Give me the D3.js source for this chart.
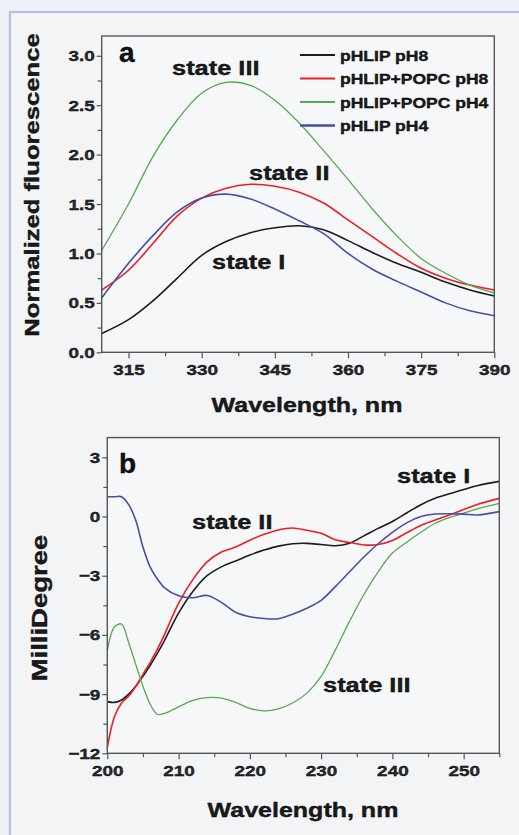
<!DOCTYPE html>
<html>
<head>
<meta charset="utf-8">
<script src="https://cdn.jsdelivr.net/npm/d3@7"></script>
<style>
  body { margin: 0; background: #eef1f7; }
  text { font-family: 'Liberation Sans', Arial, sans-serif; font-weight: bold; stroke: currentColor; stroke-width: 0.35px; }
</style>
</head>
<body>
<svg id="fig" width="519" height="835"></svg>
<script>
// series names + colours (shared by both panels)
const seriesNames = ['pHLIP pH8', 'pHLIP+POPC pH8', 'pHLIP+POPC pH4', 'pHLIP pH4']
const seriesColors = ['#1c1c1c', '#ee1d25', '#55a94f', '#4a4ea3']

// panel a - fluorescence
const wlA = [309.5, 315, 320, 325, 330, 335, 340, 345, 350, 355, 360, 365, 370, 375, 380, 385, 390]
const fluoPH8 = [0.19, 0.33, 0.52, 0.75, 0.98, 1.12, 1.21, 1.26, 1.28, 1.24, 1.13, 1.01, 0.90, 0.81, 0.71, 0.63, 0.57]
const fluoPOPC8 = [0.63, 0.83, 1.10, 1.38, 1.56, 1.66, 1.70, 1.68, 1.62, 1.51, 1.34, 1.17, 1.00, 0.85, 0.75, 0.68, 0.63]
const fluoPOPC4 = [1.03, 1.50, 1.98, 2.35, 2.62, 2.73, 2.70, 2.55, 2.32, 2.04, 1.75, 1.45, 1.18, 0.95, 0.80, 0.68, 0.60]
const fluoPH4 = [0.55, 0.90, 1.18, 1.42, 1.56, 1.60, 1.55, 1.45, 1.33, 1.20, 1.00, 0.84, 0.72, 0.61, 0.50, 0.42, 0.37]
const yTicksA = [0, 0.5, 1, 1.5, 2, 2.5, 3]
const xTicksA = [315, 330, 345, 360, 375, 390]

// panel b - CD
const wlB = [200, 201, 202, 203, 204, 205, 206, 207, 208, 210, 212, 214, 216, 218, 220, 222, 224, 226, 228, 230, 232, 234, 236, 238, 240, 242, 244, 246, 248, 250, 252, 255]
const cdPH8 = [-9.38, -9.42, -9.3, -9.0, -8.6, -8.1, -7.55, -6.95, -6.3, -4.9, -3.8, -3.0, -2.55, -2.25, -1.95, -1.7, -1.5, -1.38, -1.36, -1.42, -1.48, -1.35, -0.98, -0.6, -0.25, 0.18, 0.6, 0.92, 1.15, 1.37, 1.57, 1.78]
const cdPOPC8 = [-11.7, -10.15, -9.45, -9.1, -8.6, -8.0, -7.4, -6.75, -6.0, -4.4, -3.2, -2.3, -1.8, -1.55, -1.2, -0.9, -0.68, -0.58, -0.7, -0.85, -1.18, -1.32, -1.44, -1.42, -1.22, -0.82, -0.45, -0.18, 0.08, 0.35, 0.62, 0.92]
const cdPOPC4 = [-6.8, -5.6, -5.45, -6.4, -7.5, -8.6, -9.5, -10.02, -9.98, -9.65, -9.32, -9.18, -9.2, -9.42, -9.72, -9.85, -9.75, -9.45, -8.95, -8.1, -6.76, -5.3, -3.95, -2.8, -1.85, -1.3, -0.8, -0.34, -0.05, 0.17, 0.4, 0.67]
const cdPH4 = [1.0, 1.0, 1.0, 0.6, -0.2, -1.55, -2.55, -3.15, -3.6, -4.02, -4.12, -4.0, -4.35, -4.85, -5.08, -5.17, -5.18, -4.95, -4.65, -4.25, -3.55, -2.8, -2.05, -1.38, -0.8, -0.32, 0.0, 0.13, 0.14, 0.12, 0.08, 0.25]
const yTicksB = [-12, -9, -6, -3, 0, 3]
const xTicksB = [200, 210, 220, 230, 240, 250]

const svg = d3.select('#fig')
const axisColor = '#555'

// wide bold lettering of the original - stretch text along its run
function widen (sel, k) {
  sel.each(function () {
    const w = this.getComputedTextLength()
    this.setAttribute('textLength', w * k)
    this.setAttribute('lengthAdjust', 'spacingAndGlyphs')
  })
}

// page frame
svg.append('rect').attr('x', 10).attr('y', 12).attr('width', 520).attr('height', 840)
  .attr('fill', '#f3f4f6').attr('stroke', '#b7bde6').attr('stroke-width', 2.2)

function drawPanel (cfg) {
  const x = d3.scaleLinear().domain(cfg.xDomain).range(cfg.xRange)
  const y = d3.scaleLinear().domain(cfg.yDomain).range(cfg.yRange)
  const g = svg.append('g')

  g.append('rect')
    .attr('x', cfg.xRange[0]).attr('y', cfg.yRange[1])
    .attr('width', cfg.xRange[1] - cfg.xRange[0]).attr('height', cfg.yRange[0] - cfg.yRange[1])
    .attr('fill', '#f6f7f8')

  const line = d3.line().x(d => x(d[0])).y(d => y(d[1])).curve(d3.curveCatmullRom.alpha(0.5))
  cfg.series.forEach((vals, i) => {
    g.append('path')
      .datum(cfg.wl.map((w, j) => [w, vals[j]]))
      .attr('fill', 'none')
      .attr('stroke', seriesColors[i])
      .attr('stroke-width', i === 2 ? 1.3 : 1.6)
      .attr('d', line)
  })

  // minor ticks
  g.append('g').attr('transform', `translate(0,${cfg.yRange[0]})`)
    .call(d3.axisBottom(x).tickValues(cfg.xMinor).tickSize(4).tickFormat(''))
  g.append('g').attr('transform', `translate(${cfg.xRange[0]},0)`)
    .call(d3.axisLeft(y).tickValues(cfg.yMinor).tickSize(4).tickFormat(''))

  const xAx = g.append('g').attr('transform', `translate(0,${cfg.yRange[0]})`)
    .call(d3.axisBottom(x).tickValues(cfg.xTicks).tickSize(6).tickPadding(6).tickSizeOuter(0))
  const yAx = g.append('g').attr('transform', `translate(${cfg.xRange[0]},0)`)
    .call(d3.axisLeft(y).tickValues(cfg.yTicks).tickSize(5).tickPadding(2).tickSizeOuter(0).tickFormat(cfg.yFormat))

  g.selectAll('.domain').remove()
  g.selectAll('.tick line').attr('stroke', axisColor).attr('stroke-width', 1.2)
  g.selectAll('.tick text').style('font-size', '15.5px').attr('fill', '#2a2a2a')
    .style('font-family', "'Liberation Sans', Arial, sans-serif").style('font-weight', 'bold')
  widen(xAx.selectAll('.tick text'), 1.22)
  widen(yAx.selectAll('.tick text'), 1.22)

  // frame
  g.append('rect')
    .attr('x', cfg.xRange[0]).attr('y', cfg.yRange[1])
    .attr('width', cfg.xRange[1] - cfg.xRange[0]).attr('height', cfg.yRange[0] - cfg.yRange[1])
    .attr('fill', 'none').attr('stroke', axisColor).attr('stroke-width', 1.4)

  // panel letter
  g.append('text').attr('x', cfg.letter[1]).attr('y', cfg.letter[2])
    .style('font-size', '28px').attr('fill', '#111').text(cfg.letter[0])

  // axis titles
  const xt = g.append('text').attr('x', cfg.xTitle[0]).attr('y', cfg.xTitle[1])
    .attr('text-anchor', 'middle').style('font-size', '20px').attr('fill', '#1a1a1a')
    .text('Wavelength, nm')
  widen(xt, 1.25)
  const yt = g.append('text')
    .attr('transform', `translate(${cfg.yTitle[0]},${cfg.yTitle[1]}) rotate(-90)`)
    .attr('text-anchor', 'middle').style('font-size', cfg.yTitle[3] + 'px').attr('fill', '#1a1a1a')
    .text(cfg.yTitle[2])
  widen(yt, 1.25)

  // state annotations
  cfg.states.forEach(s => {
    const t = g.append('text').attr('x', s[1]).attr('y', s[2])
      .style('font-size', '20px').attr('fill', '#1a1a1a').text(s[0])
    widen(t, 1.27)
  })
  return { x, y, g }
}

const pa = drawPanel({
  xDomain: [309.5, 390], xRange: [101.7, 494.3],
  yDomain: [0, 3.2], yRange: [352.3, 36],
  wl: wlA, series: [fluoPH8, fluoPOPC8, fluoPOPC4, fluoPH4],
  xTicks: xTicksA, xMinor: [322.5, 337.5, 352.5, 367.5, 382.5],
  yTicks: yTicksA, yMinor: [0.25, 0.75, 1.25, 1.75, 2.25, 2.75],
  yFormat: d3.format('.1f'),
  letter: ['a', 119, 62],
  xTitle: [307, 411.5],
  yTitle: [39, 185, 'Normalized fluorescence', 20.5],
  states: [['state III', 172, 75], ['state II', 249, 180], ['state I', 212, 269]]
})

drawPanel({
  xDomain: [200, 255], xRange: [107.3, 499.3],
  yDomain: [-12, 4], yRange: [753.3, 437.6],
  wl: wlB, series: [cdPH8, cdPOPC8, cdPOPC4, cdPH4],
  xTicks: xTicksB, xMinor: [205, 215, 225, 235, 245, 255],
  yTicks: yTicksB, yMinor: [-10.5, -7.5, -4.5, -1.5, 1.5],
  yFormat: d3.format('d'),
  letter: ['b', 119, 473],
  xTitle: [303, 816.5],
  yTitle: [46.5, 608, 'MilliDegree', 22],
  states: [['state I', 397, 483], ['state II', 192, 529], ['state III', 323, 692]]
})

// legend (panel a)
const legend = pa.g.append('g')
seriesNames.forEach((name, i) => {
  const ly = 55 + i * 23.5
  legend.append('line').attr('x1', 300).attr('x2', 335).attr('y1', ly).attr('y2', ly)
    .attr('stroke', seriesColors[i]).attr('stroke-width', i === 3 ? 2.4 : 1.8)
  const t = legend.append('text').attr('x', 340).attr('y', ly + 5.5)
    .style('font-size', '14px').attr('fill', '#1a1a1a').text(name)
  widen(t, 1.25)
})
</script>
</body>
</html>
